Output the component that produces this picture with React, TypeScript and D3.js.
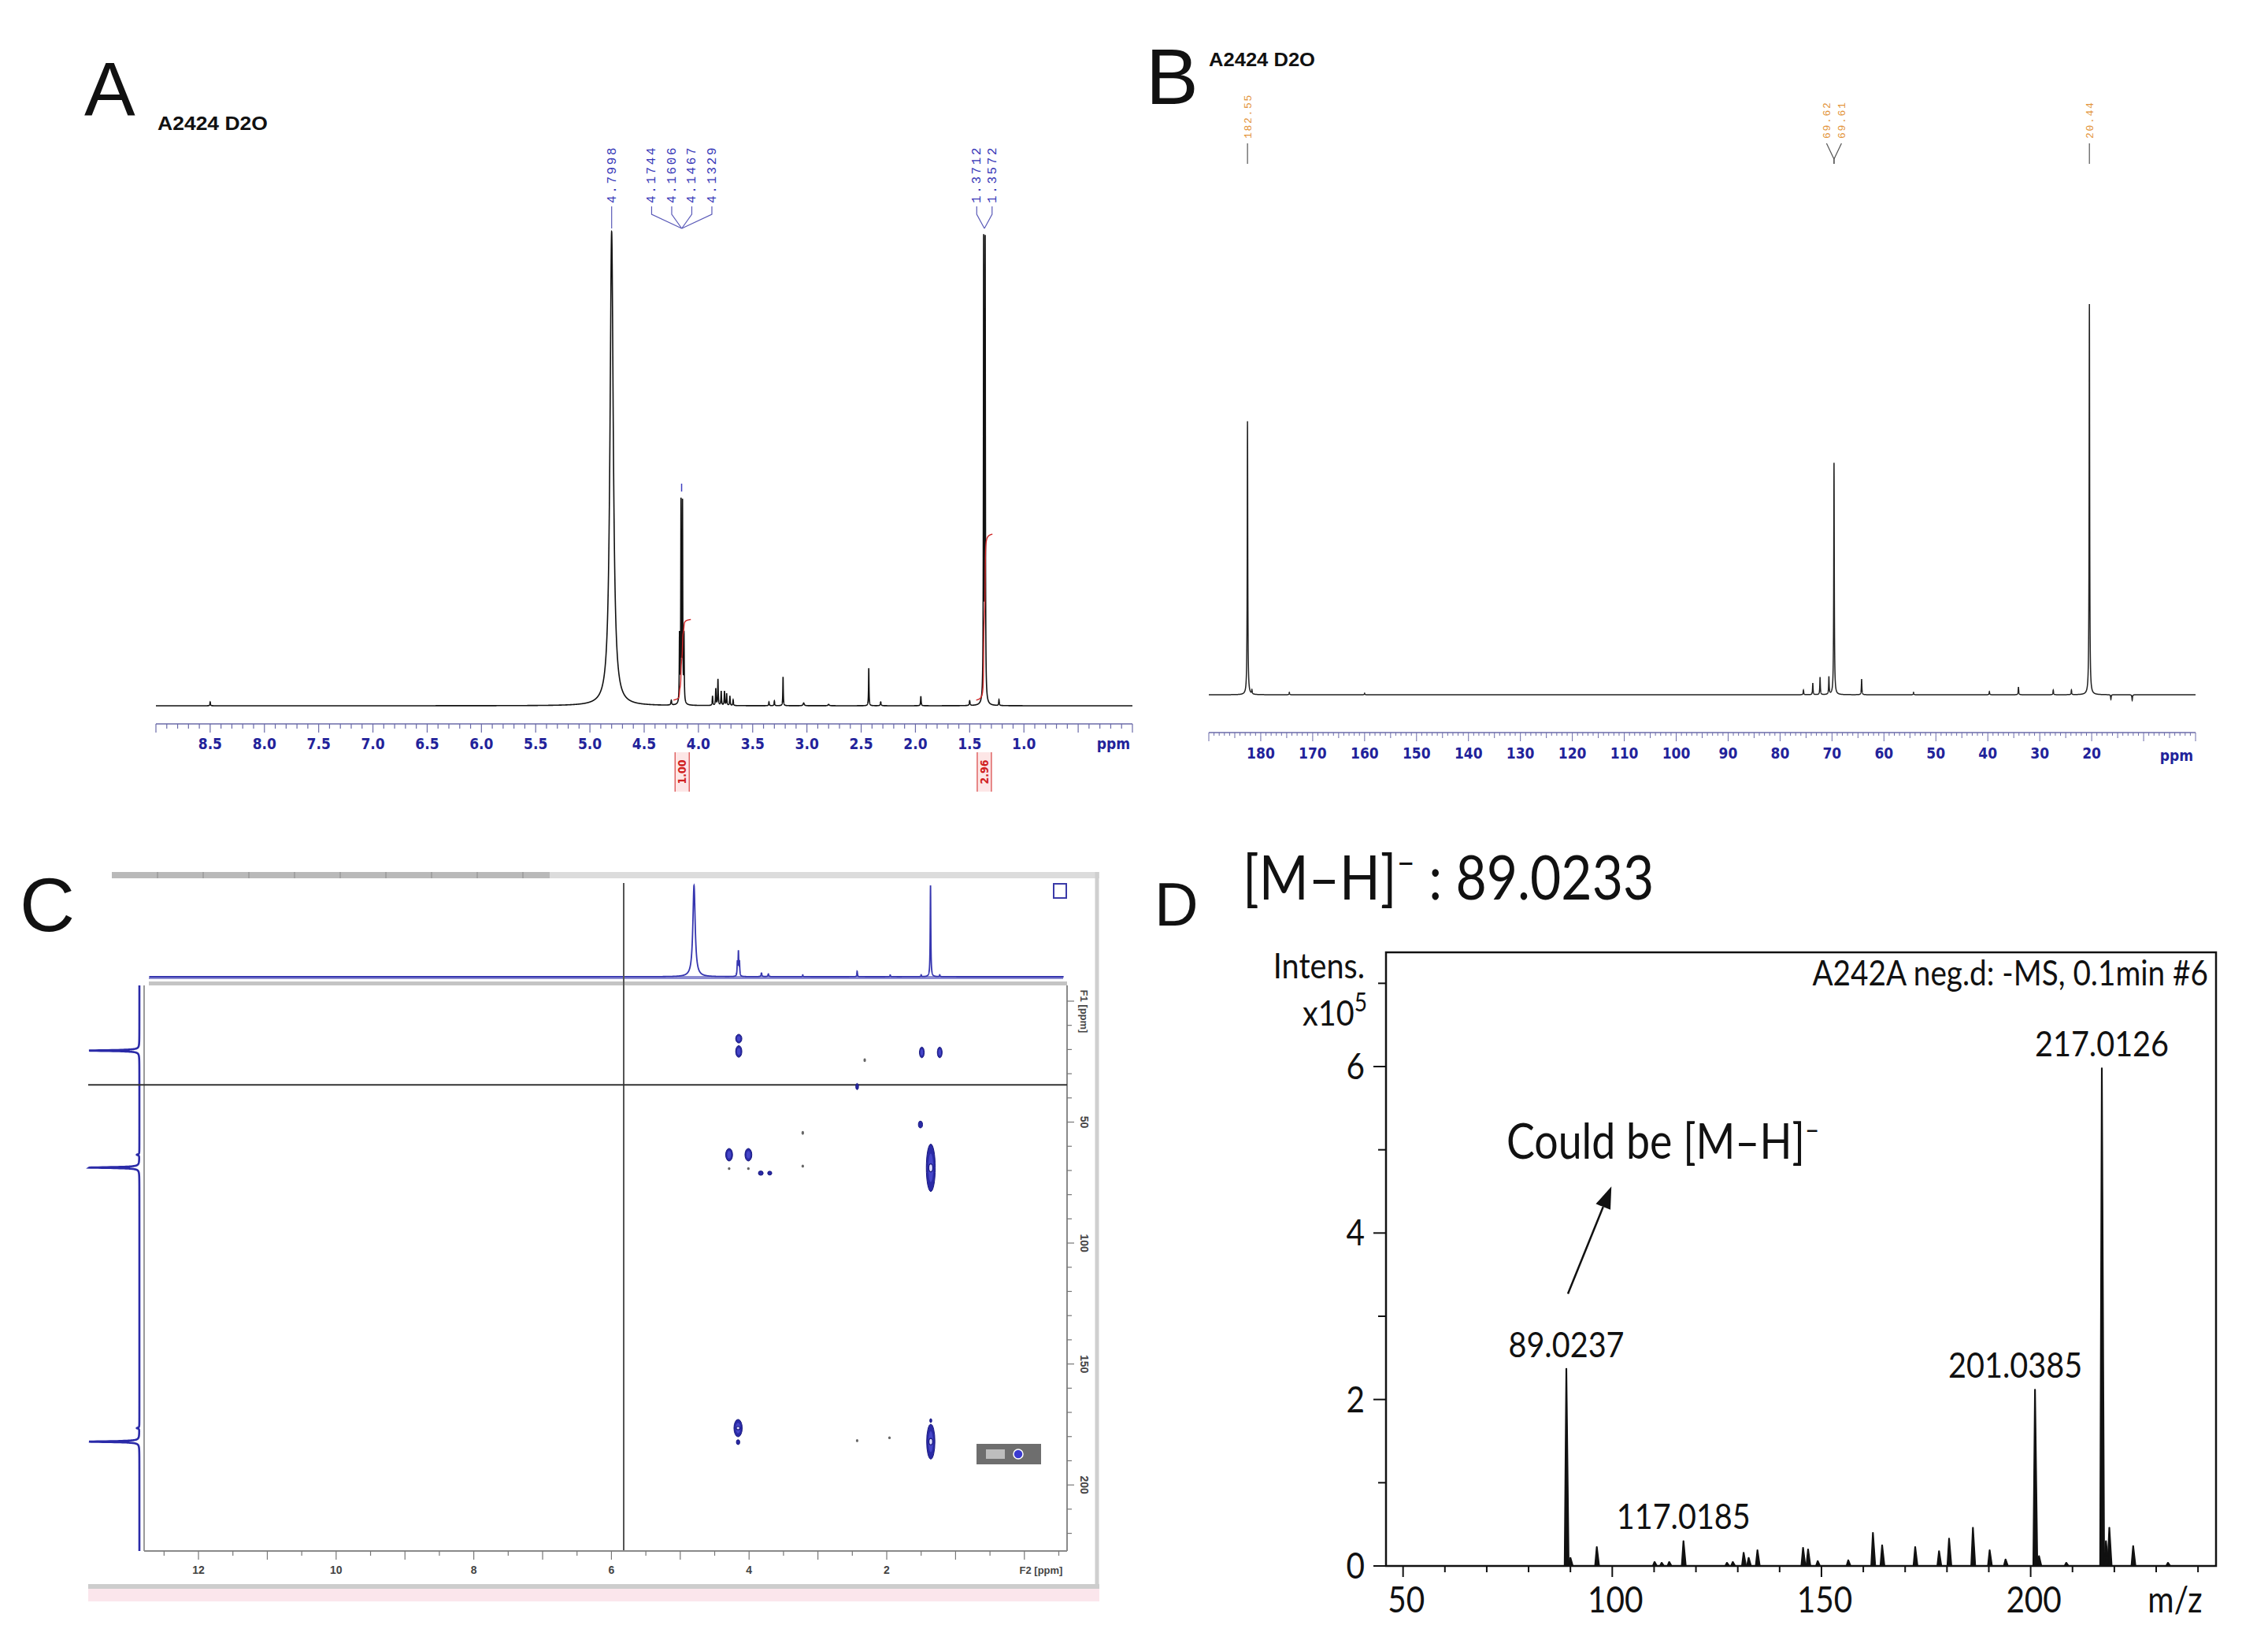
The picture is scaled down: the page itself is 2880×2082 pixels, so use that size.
import React from "react";
import * as d3 from "d3";

type P = [number, number];

// ================= Panel A : 1H NMR (D2O) =================
const hPpm = [8.5, 4.7998, 4.25, 4.1744, 4.1606, 4.1467, 4.1329, 3.87, 3.84, 3.82, 3.79, 3.76, 3.74, 3.71, 3.68, 3.35, 3.3, 3.22, 3.03, 2.8, 2.43, 2.32, 1.95, 1.5, 1.3712, 1.3572, 1.23];
const hHeight = [0.008, 1.0, 0.01, 0.14, 0.42, 0.42, 0.14, 0.02, 0.035, 0.055, 0.03, 0.03, 0.025, 0.02, 0.012, 0.008, 0.01, 0.061, 0.006, 0.003, 0.079, 0.008, 0.02, 0.01, 0.97, 0.97, 0.012];
const hWidth = [0.003, 0.018, 0.004, 0.0025, 0.0025, 0.0025, 0.0025, 0.003, 0.003, 0.003, 0.003, 0.003, 0.003, 0.003, 0.003, 0.003, 0.003, 0.0025, 0.006, 0.006, 0.0025, 0.004, 0.003, 0.004, 0.0025, 0.0025, 0.003];
const hLabels = ["4.7998", "4.1744", "4.1606", "4.1467", "4.1329", "1.3712", "1.3572"];
const hLabelGroup = [0, 1, 1, 1, 1, 2, 2];
const hGroupPpm = [4.7998, 4.1537, 1.3642];
const hIntRegions: P[] = [[4.23, 4.07], [1.44, 1.29]];
const hIntValues = ["1.00", "2.96"];
const hIntTop = [0.17, 0.35];
const hTickLabels = ["8.5", "8.0", "7.5", "7.0", "6.5", "6.0", "5.5", "5.0", "4.5", "4.0", "3.5", "3.0", "2.5", "2.0", "1.5", "1.0"];

// ================= Panel B : 13C NMR (D2O) =================
const cPpm = [182.55, 181.7, 174.5, 160, 75.5, 73.7, 72.3, 70.6, 69.62, 69.61, 64.3, 54.3, 39.7, 34.1, 27.4, 23.9, 20.44, 16.3, 12.2];
const cHeight = [0.7, 0.01, 0.006, 0.004, 0.012, 0.03, 0.045, 0.045, 0.3, 0.3, 0.04, 0.006, 0.008, 0.02, 0.012, 0.012, 1.0, -0.012, -0.014];
const cLabels = ["182.55", "69.62", "69.61", "20.44"];
const cLabelGroup = [0, 1, 1, 2];
const cGroupPpm = [182.55, 69.615, 20.44];
const cTickLabels = [180, 170, 160, 150, 140, 130, 120, 110, 100, 90, 80, 70, 60, 50, 40, 30, 20];

// ================= Panel C : HMBC =================
const topPpm = [4.8, 4.17, 4.155, 4.14, 3.82, 3.72, 3.22, 2.43, 1.95, 1.5, 1.364, 1.23];
const topHeight = [1.0, 0.15, 0.26, 0.15, 0.04, 0.03, 0.02, 0.06, 0.02, 0.02, 1.0, 0.02];
const topWidth = [0.02, 0.005, 0.005, 0.005, 0.008, 0.008, 0.005, 0.005, 0.005, 0.005, 0.005, 0.005];
const sidePpm = [20.44, 63.5, 68.8, 176.5, 182.1];
const sideHeight = [1.0, 0.05, 1.0, 0.05, 1.0];
const hmbcF2 = [4.15, 4.15, 1.49, 1.23, 2.32, 2.43, 1.51, 3.22, 4.29, 4.01, 4.29, 4.01, 3.83, 3.7, 3.22, 1.36, 4.16, 4.16, 2.43, 1.96, 1.36, 1.36];
const hmbcF1 = [15.5, 20.8, 21.2, 21.2, 24.4, 35.3, 51.0, 54.5, 63.5, 63.5, 69.2, 69.2, 71.1, 71.1, 68.2, 68.9, 176.5, 182.3, 181.7, 180.5, 182.1, 173.4];
const hmbcDF2 = [0.045, 0.045, 0.035, 0.035, 0.012, 0.02, 0.03, 0.012, 0.05, 0.05, 0.015, 0.015, 0.035, 0.03, 0.012, 0.065, 0.06, 0.025, 0.012, 0.012, 0.06, 0.015];
const hmbcDF1 = [1.8, 2.4, 2.2, 2.2, 0.8, 1.3, 1.4, 0.8, 2.6, 2.6, 0.6, 0.6, 0.9, 0.8, 0.6, 9.8, 3.6, 1.0, 0.6, 0.6, 7.2, 0.8];
const hmbcLevel = [2, 2, 2, 2, 0, 1, 1, 0, 2, 2, 0, 0, 1, 1, 0, 3, 3, 1, 0, 0, 3, 1];
const f2TickLabels = [12, 10, 8, 6, 4, 2];
const f1TickLabels = [50, 100, 150, 200];

// ================= Panel D : HRMS (negative) =================
const msMz = [89.0237, 90.0, 96.3, 110.1, 111.8, 113.6, 117.0185, 127.4, 128.8, 131.4, 132.6, 134.7, 145.6, 146.8, 149.1, 156.4, 162.3, 164.5, 172.4, 178.1, 180.5, 186.2, 190.2, 194.0, 201.0385, 202.0, 208.5, 217.0126, 218.0, 218.8, 224.5, 232.8];
const msInt = [2.37, 0.1, 0.23, 0.05, 0.04, 0.05, 0.3, 0.04, 0.05, 0.16, 0.1, 0.19, 0.22, 0.2, 0.06, 0.07, 0.4, 0.25, 0.23, 0.18, 0.33, 0.46, 0.19, 0.08, 2.12, 0.12, 0.04, 5.98, 0.3, 0.46, 0.24, 0.04];
const msLabelMz = [217.0126, 201.0385, 89.0237, 117.0185];
const msLabelText = ["217.0126", "201.0385", "89.0237", "117.0185"];
const msXTicks = [50, 100, 150, 200];
const msYTicks = [0, 2, 4, 6];

const SANS = "'Liberation Sans', Arial, sans-serif";
const NARROW = "'Liberation Sans Narrow', 'DejaVu Sans Condensed', 'Liberation Sans', sans-serif";
const MONO = "'Liberation Mono', 'DejaVu Sans Mono', monospace";
const CAL = "Lato, 'Open Sans', sans-serif";

function lorentz(pos: number[], h: number[], g: number[] | number, from: number, to: number, n: number): P[] {
  const out: P[] = [];
  for (let i = 0; i <= n; i++) {
    const x = from + ((to - from) * i) / n;
    let s = 0;
    for (let k = 0; k < pos.length; k++) {
      const gg = typeof g === "number" ? g : g[k];
      const d = x - pos[k];
      s += (h[k] * gg * gg) / (d * d + gg * gg);
    }
    out.push([x, s]);
  }
  return out;
}

function CText(props: { x: number; y: number; size: number; anchor?: string; children: any; sx?: number }) {
  const { x, y, size, anchor = "start", children, sx = 0.88 } = props;
  return (
    <text transform={`translate(${x},${y}) scale(${sx},1)`} fontFamily={CAL} fontSize={size} textAnchor={anchor as any} fill="#111">
      {children}
    </text>
  );
}

export default function App() {
  // ---------- A ----------
  const xA = d3.scaleLinear().domain([9.0, 0.0]).range([198, 1438]);
  const yA = d3.scaleLinear().domain([0, 1]).range([896, 294]);
  const specA = lorentz(hPpm, hHeight, hWidth, 9.0, 0.0, 18000);
  const lineA = d3.line<P>().x((d) => xA(d[0])).y((d) => yA(d[1]));
  const aTicks = d3.range(0, 91).map((i) => i / 10);

  // ---------- B ----------
  const xB = d3.scaleLinear().domain([190, 0]).range([1535, 2788]);
  const yB = d3.scaleLinear().domain([0, 1]).range([882, 386]);
  const specB = lorentz(cPpm, cHeight, 0.06, 190, 0, 19000);
  const lineB = d3.line<P>().x((d) => xB(d[0])).y((d) => yB(d[1]));
  const bTicks = d3.range(0, 191, 1);

  // ---------- C ----------
  const xC = d3.scaleLinear().domain([12.79, -0.62]).range([183, 1355]);
  const yC = d3.scaleLinear().domain([-6.5, 227.3]).range([1251, 1969]);
  const yTop = d3.scaleLinear().domain([0, 1]).range([1240, 1124]);
  const specTop = lorentz(topPpm, topHeight, topWidth, 12.71, -0.57, 14000);
  const lineTop = d3.line<P>().x((d) => xC(d[0])).y((d) => yTop(d[1]));
  const xSide = d3.scaleLinear().domain([0, 1]).range([177, 113]);
  const specSide = lorentz(sidePpm, sideHeight, 0.22, -6.5, 227.3, 8000);
  const lineSide = d3.line<P>().x((d) => xSide(d[1])).y((d) => yC(d[0]));

  // ---------- D ----------
  const xD = d3.scaleLinear().domain([89.0237, 217.0126]).range([1989, 2669]);
  const yD = d3.scaleLinear().domain([0, 6]).range([1988, 1354]);
  const boxD = { l: 1760, r: 2814, t: 1209, b: yD(0) };
  const msLabelDx = [0, -25, 0, 0];

  const labelLayout = (groupIdx: number[], groupPpm: number[], xs: (v: number) => number, spacing: number[]) => {
    return groupIdx.map((g, i) => {
      const members = groupIdx.map((gg, j) => (gg === g ? j : -1)).filter((j) => j >= 0);
      const k = members.indexOf(i);
      const cx = xs(groupPpm[g]);
      return { lx: cx + (k - (members.length - 1) / 2) * spacing[g], px: cx };
    });
  };
  const aLab = labelLayout(hLabelGroup, hGroupPpm, xA, [0, 25.5, 19.5]);
  const bLab = labelLayout(cLabelGroup, cGroupPpm, xB, [0, 19, 0]);

  const arrowFrom: P = [xD(89.4), yD(3.27)];
  const arrowTo: P = [xD(99.8), yD(4.56)];
  const ang = Math.atan2(arrowTo[1] - arrowFrom[1], arrowTo[0] - arrowFrom[0]);
  const headL = 28, headW = 10;
  const hb: P = [arrowTo[0] - headL * Math.cos(ang), arrowTo[1] - headL * Math.sin(ang)];
  const head = `M${arrowTo[0]},${arrowTo[1]} L${hb[0] + headW * Math.sin(ang)},${hb[1] - headW * Math.cos(ang)} L${hb[0] - headW * Math.sin(ang)},${hb[1] + headW * Math.cos(ang)} Z`;

  return (
    <svg width={2880} height={2082} style={{ position: "absolute", left: 0, top: 0, display: "block", background: "#fff" }}>
      <rect x={0} y={0} width={2880} height={2082} fill="#fff" />

      {/* ===================== Panel A ===================== */}
      <g>
        <text x={107} y={146} fontFamily={SANS} fontSize={97} fill="#111">A</text>
        <text x={200} y={165} fontFamily={SANS} fontSize={23} fontWeight="bold" textLength={140} lengthAdjust="spacingAndGlyphs" fill="#111">A2424 D2O</text>
        {hLabels.map((t, i) => (
          <g key={"al" + i}>
            <text transform={`translate(${aLab[i].lx + 5},${258}) rotate(-90)`} fontFamily={MONO} fontSize={16} letterSpacing={2.6} fill="#3838b8">{t}</text>
            <path d={`M${aLab[i].lx},262 L${aLab[i].lx},272 L${aLab[i].px},290`} fill="none" stroke="#5a5ab8" strokeWidth={1.2} />
          </g>
        ))}
        <path d={lineA(specA) || ""} fill="none" stroke="#111" strokeWidth={1.6} />
        <line x1={xA(4.155)} x2={xA(4.155)} y1={614} y2={624} stroke="#4040c0" strokeWidth={1.5} />
        {hIntRegions.map(([a, b], i) => {
          const pts = specA.filter((d) => d[0] <= a && d[0] >= b);
          let cum = 0;
          const c: P[] = pts.map((d) => { cum += d[1]; return [d[0], cum] as P; });
          const tot = cum;
          const lp = d3.line<P>().x((d) => xA(d[0])).y((d) => yA(0.012 + (d[1] / tot) * hIntTop[i]));
          const xm = xA((a + b) / 2);
          return (
            <g key={"int" + i}>
              <path d={lp(c) || ""} fill="none" stroke="#d02828" strokeWidth={1.4} />
              <rect x={xm - 9} y={955} width={18} height={50} fill="#fde6e6" />
              <line x1={xm - 9} x2={xm - 9} y1={955} y2={1005} stroke="#d84040" strokeWidth={1.2} />
              <line x1={xm + 9} x2={xm + 9} y1={955} y2={1005} stroke="#d84040" strokeWidth={1.2} />
              <text transform={`translate(${xm},${980}) rotate(-90)`} textAnchor="middle" dy="0.35em" fontFamily={NARROW} fontWeight="bold" fontSize={14} fill="#d02020">{hIntValues[i]}</text>
            </g>
          );
        })}
        <line x1={198} x2={1438} y1={919} y2={919} stroke="#6a6aa8" strokeWidth={1.5} />
        {aTicks.map((t, i) => {
          const major = Math.abs(t * 2 - Math.round(t * 2)) < 1e-6;
          return <line key={"at" + i} x1={xA(t)} x2={xA(t)} y1={919} y2={major ? 930 : 925} stroke="#6a6aa8" strokeWidth={1.2} />;
        })}
        {hTickLabels.map((t) => (
          <text key={"atl" + t} x={xA(+t)} y={951} textAnchor="middle" fontFamily={NARROW} fontWeight="bold" fontSize={19} fill="#22229a">{t}</text>
        ))}
        <text x={1414} y={951} textAnchor="middle" fontFamily={NARROW} fontWeight="bold" fontSize={19} fill="#22229a">ppm</text>
      </g>

      {/* ===================== Panel B ===================== */}
      <g>
        <text x={1455} y={132} fontFamily={SANS} fontSize={100} fill="#111">B</text>
        <text x={1535} y={84} fontFamily={SANS} fontSize={23} fontWeight="bold" textLength={135} lengthAdjust="spacingAndGlyphs" fill="#111">A2424 D2O</text>
        {cLabels.map((t, i) => {
          const single = cLabelGroup.filter((g) => g === cLabelGroup[i]).length === 1;
          return (
            <g key={"bl" + i}>
              <text transform={`translate(${bLab[i].lx + 4.5},${176}) rotate(-90)`} fontFamily={MONO} fontSize={13} letterSpacing={1.7} fill="#e3953c">{t}</text>
              <path d={single ? `M${bLab[i].px},182 L${bLab[i].px},208` : `M${bLab[i].lx},182 L${bLab[i].px},202 L${bLab[i].px},208`} fill="none" stroke="#555" strokeWidth={1.2} />
            </g>
          );
        })}
        <path d={lineB(specB) || ""} fill="none" stroke="#222" strokeWidth={1.5} />
        <line x1={1535} x2={2788} y1={930} y2={930} stroke="#6a6aa8" strokeWidth={1.5} />
        {bTicks.map((t) => (
          <line key={"bt" + t} x1={xB(t)} x2={xB(t)} y1={930} y2={t % 10 === 0 ? 941 : t % 5 === 0 ? 937 : 934} stroke="#6a6aa8" strokeWidth={1} />
        ))}
        {cTickLabels.map((t) => (
          <text key={"btl" + t} x={xB(t)} y={963} textAnchor="middle" fontFamily={NARROW} fontWeight="bold" fontSize={19} fill="#22229a">{t}</text>
        ))}
        <text x={2764} y={966} textAnchor="middle" fontFamily={NARROW} fontWeight="bold" fontSize={19} fill="#22229a">ppm</text>
      </g>

      {/* ===================== Panel C ===================== */}
      <g>
        <text x={25} y={1182} fontFamily={SANS} fontSize={97} fill="#111">C</text>
        <rect x={142} y={1107} width={1254} height={8} fill="#dcdcdc" />
        <rect x={142} y={1107} width={556} height={8} fill="#b9b9b9" />
        {d3.range(0, 9).map((i) => (
          <line key={"sm" + i} x1={200 + i * 58} x2={200 + i * 58} y1={1107} y2={1115} stroke="#8a8a8a" strokeWidth={1} />
        ))}
        <line x1={1393} x2={1393} y1={1107} y2={2033} stroke="#cfcfcf" strokeWidth={5} />
        <rect x={1338} y={1122} width={16} height={18} fill="#fff" stroke="#3a3aa8" strokeWidth={2} />
        <line x1={189} x2={1350} y1={1241} y2={1241} stroke="#8c8cd0" strokeWidth={4} />
        <path d={lineTop(specTop) || ""} fill="none" stroke="#3636b0" strokeWidth={1.8} />
        <rect x={189} y={1246} width={1166} height={5} fill="#c4c4c4" />
        <line x1={183} x2={183} y1={1251} y2={1969} stroke="#9a9a9a" strokeWidth={2} />
        <line x1={183} x2={1355} y1={1969} y2={1969} stroke="#8a8a8a" strokeWidth={2} />
        <line x1={1355} x2={1355} y1={1251} y2={1969} stroke="#8a8a8a" strokeWidth={2} />
        <path d={lineSide(specSide) || ""} fill="none" stroke="#2a2aa8" strokeWidth={2.6} />
        <line x1={792} x2={792} y1={1121} y2={1968} stroke="#555" strokeWidth={2} />
        <line x1={112} x2={1355} y1={yC(34.6)} y2={yC(34.6)} stroke="#333" strokeWidth={2} />
        {hmbcF2.map((f2, i) => {
          const cx = xC(f2), cy = yC(hmbcF1[i]);
          const rx = Math.abs(xC(0) - xC(hmbcDF2[i]));
          const ry = Math.abs(yC(hmbcDF1[i]) - yC(0));
          const lv = hmbcLevel[i];
          if (lv === 0) return <ellipse key={"cp" + i} cx={cx} cy={cy} rx={Math.max(rx, 1.6)} ry={Math.max(ry, 1.6)} fill="#666" />;
          return (
            <g key={"cp" + i}>
              <ellipse cx={cx} cy={cy} rx={rx} ry={ry} fill="#2a2aa6" stroke="#17177e" strokeWidth={1} />
              {lv >= 2 && <ellipse cx={cx} cy={cy} rx={rx * 0.55} ry={ry * 0.6} fill="#4646c8" />}
              {lv >= 3 && <ellipse cx={cx} cy={cy} rx={rx * 0.45} ry={Math.min(ry * 0.18, 5)} fill="#dcdcff" stroke="#17177e" strokeWidth={1.2} />}
            </g>
          );
        })}
        <rect x={1240} y={1833} width={82} height={26} fill="#6e6e6e" />
        <rect x={1252} y={1840} width={24} height={12} fill="#bdbdbd" />
        <circle cx={1293} cy={1846} r={6} fill="#3a3ad0" stroke="#fff" strokeWidth={1.5} />
        {d3.range(0, 230, 10).map((t) => (
          <line key={"f1t" + t} x1={1355} x2={t % 50 === 0 ? 1364 : 1361} y1={yC(t)} y2={yC(t)} stroke="#777" strokeWidth={1.2} />
        ))}
        {f1TickLabels.map((t) => (
          <text key={"f1l" + t} transform={`translate(${1372},${yC(t)}) rotate(90)`} textAnchor="middle" fontFamily={SANS} fontSize={14} fontWeight="bold" fill="#444">{t}</text>
        ))}
        <text transform={`translate(${1372},${1284}) rotate(90)`} textAnchor="middle" fontFamily={SANS} fontSize={13} fontWeight="bold" fill="#444">F1 [ppm]</text>
        {d3.range(-0.5, 12.51, 0.5).map((t) => (
          <line key={"f2t" + t} x1={xC(t)} x2={xC(t)} y1={1969} y2={Number.isInteger(t) ? 1980 : 1975} stroke="#777" strokeWidth={1.2} />
        ))}
        {f2TickLabels.map((t) => (
          <text key={"f2l" + t} x={xC(t)} y={1998} textAnchor="middle" fontFamily={SANS} fontSize={14} fontWeight="bold" fill="#444">{t}</text>
        ))}
        <text x={1322} y={1998} textAnchor="middle" fontFamily={SANS} fontSize={13} fontWeight="bold" fill="#444">F2 [ppm]</text>
        <rect x={112} y={2011} width={1284} height={6} fill="#cdcdcd" />
        <rect x={112} y={2017} width={1284} height={16} fill="#fbe6ec" />
      </g>

      {/* ===================== Panel D ===================== */}
      <g>
        <text x={1466} y={1175} fontFamily={SANS} fontSize={77} fill="#111">D</text>
        <CText x={1578} y={1142} size={77}>
          [M–H]<tspan dy={-32} fontSize={46}>–</tspan><tspan dy={32} fontSize={77}> : 89.0233</tspan>
        </CText>
        <rect x={boxD.l} y={boxD.t} width={boxD.r - boxD.l} height={boxD.b - boxD.t} fill="none" stroke="#111" strokeWidth={2.5} />
        <CText x={2804} y={1251} size={44} anchor="end">A242A neg.d: -MS, 0.1min #6</CText>
        <CText x={1733} y={1242} size={45} anchor="end">Intens.</CText>
        <CText x={1736} y={1302} size={45} anchor="end">
          x10<tspan dy={-18} fontSize={32}>5</tspan>
        </CText>
        {d3.range(0, 8).map((t) => (
          <line key={"dyt" + t} x1={t % 2 === 0 ? 1744 : 1750} x2={boxD.l} y1={yD(t)} y2={yD(t)} stroke="#111" strokeWidth={2} />
        ))}
        {msYTicks.map((t) => (
          <CText key={"dyl" + t} x={1733} y={yD(t) + 16} size={46} anchor="end">{t}</CText>
        ))}
        {d3.range(50, 241, 10).map((t) => (
          <line key={"dxt" + t} x1={xD(t)} x2={xD(t)} y1={boxD.b} y2={boxD.b + (t % 50 === 0 ? 14 : 8)} stroke="#111" strokeWidth={2} />
        ))}
        {msXTicks.map((t) => (
          <CText key={"dxl" + t} x={xD(t) + 4} y={2047} size={46} anchor="middle">{t}</CText>
        ))}
        <CText x={2762} y={2047} size={46} anchor="middle">m/z</CText>
        {msMz.map((m, i) => (
          <path key={"pk" + i} d={`M${xD(m - 0.45)},${yD(0)} L${xD(m - 0.05)},${yD(msInt[i])} L${xD(m + 0.05)},${yD(msInt[i])} L${xD(m + 0.6)},${yD(0)} Z`} fill="#111" stroke="#111" strokeWidth={1.6} strokeLinejoin="round" />
        ))}
        {msLabelMz.map((m, i) => {
          const k = msMz.indexOf(m);
          return (
            <CText key={"ml" + i} x={xD(m) + msLabelDx[i]} y={yD(msInt[k]) - 15} size={45} anchor="middle">{msLabelText[i]}</CText>
          );
        })}
        <CText x={xD(74.7)} y={yD(4.89)} size={61}>
          Could be [M–H]<tspan dy={-24} fontSize={36}>–</tspan>
        </CText>
        <line x1={arrowFrom[0]} y1={arrowFrom[1]} x2={hb[0]} y2={hb[1]} stroke="#111" strokeWidth={2.5} />
        <path d={head} fill="#111" />
      </g>
    </svg>
  );
}
